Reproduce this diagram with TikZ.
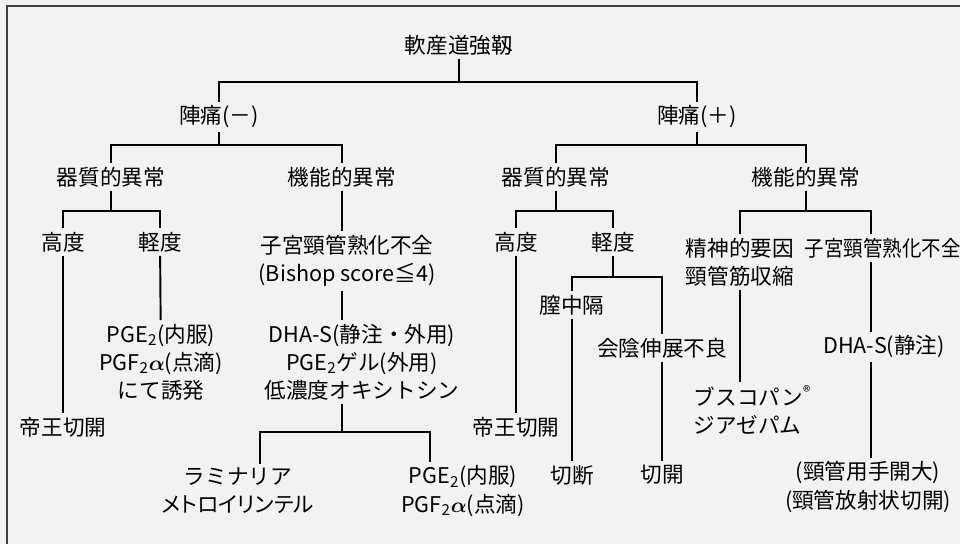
\documentclass[tikz,border=0pt]{standalone}
\usepackage{fontspec}
\setmainfont{Noto Sans CJK JP}
\usepackage{bm}
\definecolor{paper}{gray}{0.95}

\begin{document}
\begin{tikzpicture}[x=0.02cm,y=-0.02cm,
    every node/.style={font=\fontsize{12.3}{16}\selectfont, align=center, inner sep=2pt},
    link/.style={line width=1.1pt}]
    \fill[paper] (0,0) rectangle (960,544);
    \useasboundingbox (0,0) rectangle (960,544);
    \draw[line width=0.9pt, black!75] (7,544) -- (7,6) -- (960,6);

    % levels of the bars, columns of the offset stems
    \coordinate (y0) at (0,82);
    \coordinate (y1) at (0,145);
    \coordinate (y2) at (0,211);
    \coordinate (y3) at (0,277);
    \coordinate (y5) at (0,432);
    \coordinate (colLam) at (260,0);
    \coordinate (colPgB) at (430,0);
    \coordinate (colR) at (871,0);

    \node (top) at (459,45) {軟産道強靱};
    \node (painN) at (219,117) {陣痛(－)};
    \node (painP) at (697,117) {陣痛(＋)};

    \node (orgL) at (111,177) {器質的異常};
    \node (funL) at (342,177) {機能的異常};
    \node (hiL) at (63,242) {高度};
    \node (loL) at (160,242) {軽度};
    \node (cesL) at (63,427) {帝王切開};
    \node (pgL) at (161,362) {PGE\textsubscript{2}(内服)\\PGF\textsubscript{2}$\bm{\alpha}$(点滴)\\にて誘発};
    \node (ripeL) at (347,261) {子宮頸管熟化不全\\(Bishop score≦4)};
    \node (dhaL) at (362,362) {DHA-S(静注・外用)\\PGE\textsubscript{2}ゲル(外用)\\低濃度オキシトシン};
    \node (lamL) at (238,491) {ラミナリア\\{\addfontfeature{RawFeature=+palt}メトロイリンテル}};
    \node (pgB) at (463,491) {PGE\textsubscript{2}(内服)\\PGF\textsubscript{2}$\bm{\alpha}$(点滴)};

    \node (orgR) at (556,177) {器質的異常};
    \node (funR) at (806,177) {機能的異常};
    \node (hiR) at (516,242) {高度};
    \node (loR) at (613,242) {軽度};
    \node (cesR) at (516,427) {帝王切開};
    \node (septum) at (572,305) {膣中隔};
    \node (perin) at (662,348) {会陰伸展不良};
    \node (cut) at (572,475) {切断};
    \node (inc) at (662,475) {切開};
    \node (psy) at (740,262) {精神的要因\\頸管筋収縮};
    \node[anchor=west, align=left] (busc) at (690,410) {ブスコパン\textsuperscript{®}\\ジアゼパム};
    \node[anchor=west] (ripeR) at (801,248) {\scalebox{0.9}[1]{子宮頸管熟化不全}};
    \node (dhaR) at (884,347) {DHA-S(静注)};
    \node (cervR) at (868,487) {(頸管用手開大)\\(頸管放射状切開)};

    \draw[link] (top) -- (top |- y0);
    \draw[link] (painN) -- (painN |- y0) -- (painP |- y0) -- (painP);

    \draw[link] (painN) -- (painN |- y1);
    \draw[link] (orgL) -- (orgL |- y1) -- (funL |- y1) -- (funL);
    \draw[link] (orgL) -- (orgL |- y2);
    \draw[link] (hiL) -- (hiL |- y2) -- (loL |- y2) -- (loL);
    \draw[link] (hiL) -- (cesL);
    \draw[link] (loL) -- (pgL);
    \draw[link] (funL) -- (funL |- ripeL.north);
    \draw[link] (funL |- ripeL.south) -- (funL |- dhaL.north);
    \draw[link] (funL |- dhaL.south) -- (funL |- y5);
    \draw[link] (colLam |- lamL.north) -- (colLam |- y5) -- (colPgB |- y5) -- (colPgB |- pgB.north);

    \draw[link] (painP) -- (painP |- y1);
    \draw[link] (orgR) -- (orgR |- y1) -- (funR |- y1) -- (funR);
    \draw[link] (orgR) -- (orgR |- y2);
    \draw[link] (hiR) -- (hiR |- y2) -- (loR |- y2) -- (loR);
    \draw[link] (hiR) -- (cesR);
    \draw[link] (loR) -- (loR |- y3);
    \draw[link] (septum) -- (septum |- y3) -- (perin |- y3) -- (perin);
    \draw[link] (septum) -- (cut);
    \draw[link] (perin) -- (inc);
    \draw[link] (funR) -- (funR |- y2);
    \draw[link] (psy) -- (psy |- y2) -- (colR |- y2) -- (colR |- ripeR.north);
    \draw[link] (psy) -- (psy |- busc.north);
    \draw[link] (colR |- ripeR.south) -- (colR |- dhaR.north);
    \draw[link] (colR |- dhaR.south) -- (colR |- cervR.north);
\end{tikzpicture}
\end{document}
